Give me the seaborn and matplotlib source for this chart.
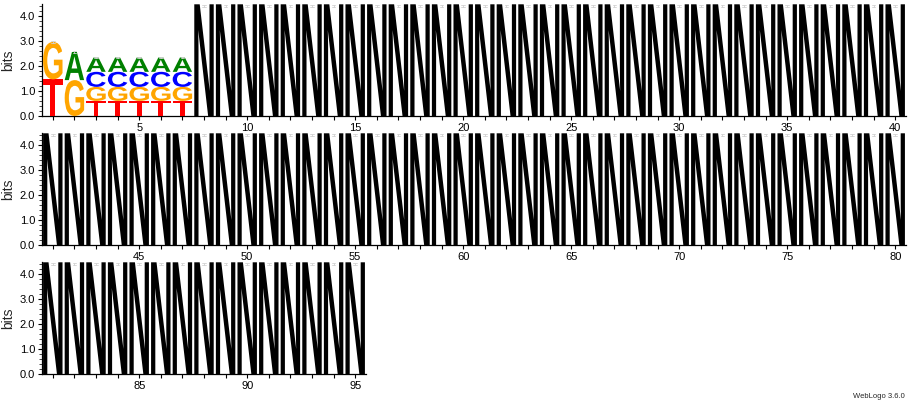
"""
Sequence logo (WebLogo style) redrawn with matplotlib + seaborn.
"""

import matplotlib

matplotlib.use("Agg")

import matplotlib.pyplot as plt
import numpy as np
import seaborn as sns
from matplotlib.font_manager import FontProperties
from matplotlib.patches import PathPatch
from matplotlib.text import TextPath
from matplotlib.transforms import Affine2D
from matplotlib.ticker import MultipleLocator

# stacked letters, bottom to top order T, G, C, A (bits)
stack_positions = [1, 2, 3, 4, 5, 6, 7]
T_bits = [1.46, 0.00, 0.60, 0.60, 0.60, 0.60, 0.60]
G_bits = [1.49, 1.43, 0.56, 0.56, 0.56, 0.56, 0.56]
C_bits = [0.00, 0.00, 0.60, 0.60, 0.60, 0.60, 0.60]
A_bits = [0.00, 1.12, 0.57, 0.57, 0.57, 0.57, 0.57]

# the rest of the sequence is all N, full height
n_positions = list(range(8, 96))
N_bits = [4.45] * len(n_positions)

rows = [(1, 40), (41, 80), (81, 95)]
letter_colors = {"T": "#FF0000", "G": "#FFA500", "C": "#0000FF", "A": "#008000", "N": "#000000"}
y_max = 4.45

sns.set_style("ticks")
plt.rcParams["font.family"] = ["Liberation Sans", "DejaVu Sans"]
glyph_font = FontProperties(family="Liberation Sans", weight="bold")


def draw_letter(ax, letter, x, bottom, height, width=0.9):
    path = TextPath((0, 0), letter, size=1, prop=glyph_font)
    ext = path.get_extents()
    tr = (
        Affine2D()
        .translate(-ext.x0, -ext.y0)
        .scale(width / ext.width, height / ext.height)
        .translate(x - width / 2, bottom)
    )
    ax.add_patch(PathPatch(tr.transform_path(path), facecolor=letter_colors[letter], edgecolor="none", zorder=3))


def draw_errbar(ax, x, top):
    lo, hi = top - 0.03, top + 0.03
    ax.plot([x, x], [lo, hi], color="#d2d2d2", lw=0.6, zorder=4)
    for yy in (lo, hi):
        ax.plot([x - 0.08, x + 0.08], [yy, yy], color="#d2d2d2", lw=0.6, zorder=4)


fig = plt.figure(figsize=(9.15, 4.01), dpi=100)
W, H = 915.0, 401.0
pos_w = 21.6
zero_lines = [116, 245, 374]
row_h = 111.7

for (start, end), zero in zip(rows, zero_lines):
    n = end - start + 1
    ax = fig.add_axes([42 / W, (H - zero) / H, n * pos_w / W, row_h / H])
    ax.set_xlim(start - 0.5, end + 0.5)
    ax.set_ylim(0, y_max)

    for i, p in enumerate(stack_positions):
        if not start <= p <= end:
            continue
        bottom = 0.0
        for letter, vals in (("T", T_bits), ("G", G_bits), ("C", C_bits), ("A", A_bits)):
            if vals[i] > 0:
                draw_letter(ax, letter, p, bottom, vals[i])
                bottom += vals[i]
        draw_errbar(ax, p, bottom)

    for p, h in zip(n_positions, N_bits):
        if start <= p <= end:
            draw_letter(ax, "N", p, 0.0, h)
            draw_errbar(ax, p, 4.38)

    ticks = np.arange(start, end + 1)
    ax.set_xticks(ticks)
    ax.set_xticklabels([str(t) if t % 5 == 0 else "" for t in ticks], fontsize=8)
    ax.set_yticks([0, 1, 2, 3, 4])
    ax.set_yticklabels(["0.0", "1.0", "2.0", "3.0", "4.0"], fontsize=8)
    ax.yaxis.set_minor_locator(MultipleLocator(0.2))
    ax.tick_params(axis="both", which="major", direction="out", length=3, width=0.8, pad=2, colors="black")
    ax.tick_params(axis="y", which="minor", direction="out", length=2, width=0.6)
    ax.set_ylabel("bits", fontsize=10, labelpad=3)
    sns.despine(ax=ax)
    for side in ("left", "bottom"):
        ax.spines[side].set_linewidth(0.9)
        ax.spines[side].set_color("black")
    ax.set_facecolor("none")

fig.text(905 / W, (H - 396) / H, "WebLogo 3.6.0", fontsize=5.5, ha="right", va="center")

fig.savefig("out.png", dpi=100)
